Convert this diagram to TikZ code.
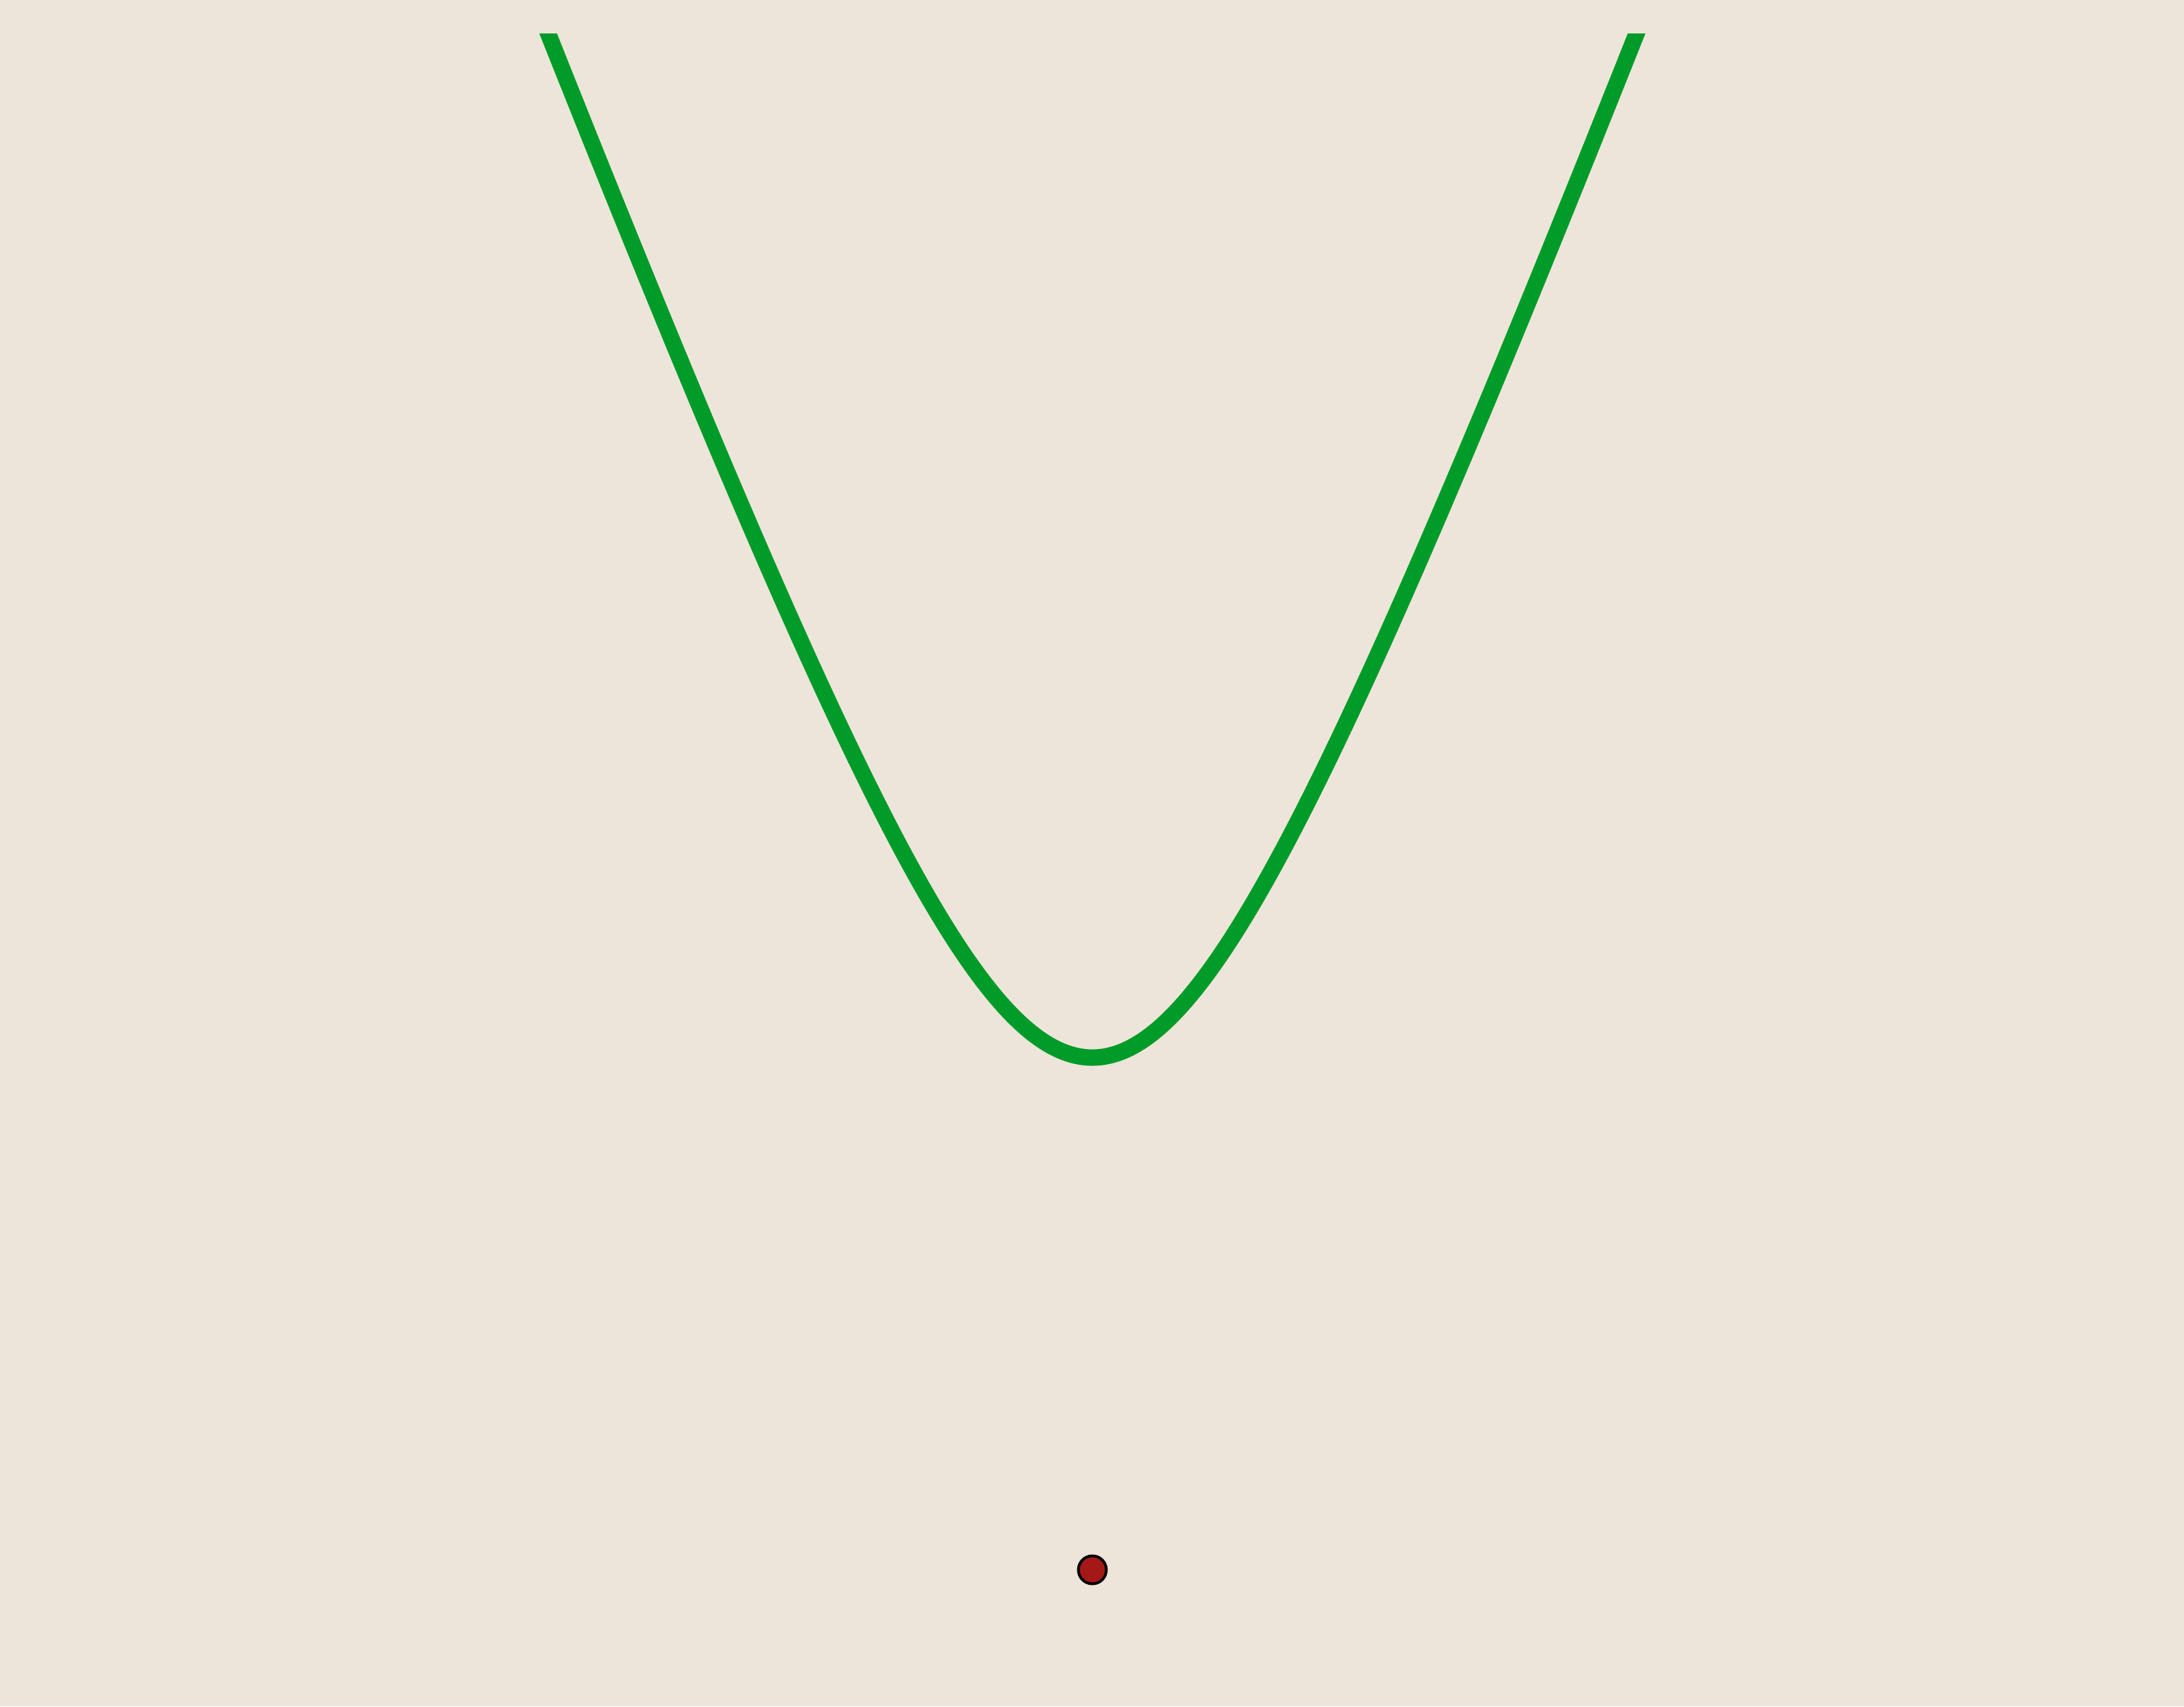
\documentclass[tikz,border=0pt]{standalone}
\usepackage{tikz}
\definecolor{bgbeige}{RGB}{237,229,218}
\definecolor{curvegreen}{RGB}{0,155,40}
\definecolor{dotred}{RGB}{165,24,24}
\tikzset{
  curvestyle/.style={draw=curvegreen, line width=0.24cm, line join=round},
  dotstyle/.style={circle, fill=dotred, draw=black, line width=0.04cm, minimum size=0.41cm, inner sep=0pt}
}
\begin{document}
\begin{tikzpicture}[x=1cm,y=1cm]
  \fill[bgbeige] (0,0) rectangle (31.99,-25);
  \useasboundingbox (0,0) rectangle (31.99,-25);
  \begin{scope}
    \clip (0,-0.5) rectangle (31.99,-25);
    \draw[curvestyle] plot[domain=-8.5:8.5, samples=301, smooth]
      (16+\x, {-15.495 + 2.672*(sqrt(\x*\x+8.1225)-2.85)});
  \end{scope}
  \node[dotstyle] (dot) at (16,-23) {};
\end{tikzpicture}
\end{document}
